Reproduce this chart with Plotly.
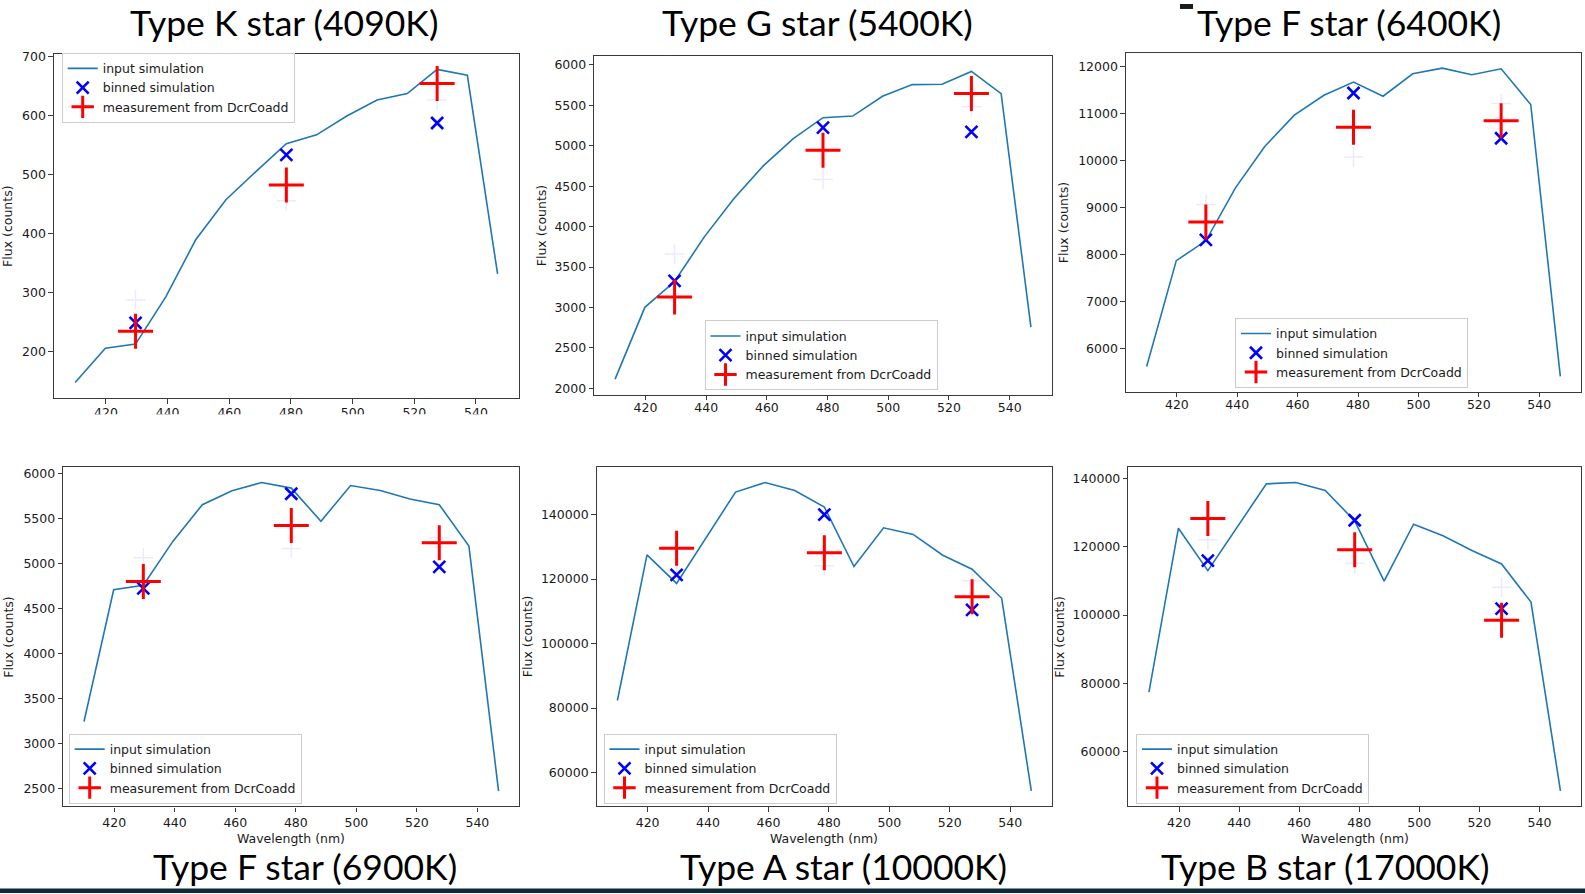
import plotly.graph_objects as go

# ---------------- data ----------------
wavelength = [410.0, 419.8, 429.6, 439.4, 449.1, 458.9, 468.7, 478.5,
              488.3, 498.1, 507.9, 517.7, 527.4, 537.2, 547.0]
bin_centers = [429.6, 478.5, 527.4]

titles = ["Type K star (4090K)", "Type G star (5400K)", "Type F star (6400K)",
          "Type F star (6900K)", "Type A star (10000K)", "Type B star (17000K)"]

k_input = [148, 206, 213, 293, 390, 458, 506, 553, 568, 600, 627, 638, 679, 669, 332]
k_binned = [249, 534, 588]
k_meas = [235, 483, 655]
k_ghost = [288, 456, 627]

g_input = [2115, 3002, 3321, 3873, 4344, 4753, 5088, 5346, 5366, 5611, 5755, 5759, 5918, 5644, 2757]
g_binned = [3329, 5223, 5170]
g_meas = [3129, 4945, 5644]
g_ghost = [3660, 4581, 5480]

f64_input = [5613, 7864, 8286, 9412, 10291, 10959, 11381, 11662, 11360, 11838, 11958, 11817, 11944, 11184, 5402]
f64_binned = [8307, 11430, 10467]
f64_meas = [8687, 10699, 10839]
f64_ghost = [9060, 10066, 11205]

f69_input = [3243, 4706, 4757, 5246, 5651, 5805, 5897, 5835, 5467, 5864, 5809, 5713, 5651, 5191, 2471]
f69_binned = [4721, 5772, 4960]
f69_meas = [4798, 5419, 5228]
f69_ghost = [5062, 5165, 5283]

a_input = [82359, 127487, 118667, 132821, 146974, 149949, 147487, 142359, 123897, 135897, 133846, 127385, 123077, 114051, 54359]
a_binned = [121333, 140000, 110462]
a_meas = [129538, 128205, 114564]
a_ghost = [122500, 124103, 119487]

b_input = [77439, 125451, 113036, 125840, 138448, 138836, 136508, 127585, 109932, 126615, 123220, 118856, 114976, 103822, 48536]
b_binned = [115946, 127779, 101882]
b_meas = [128264, 119146, 98487]
b_ghost = [122056, 115170, 108186]

x_ticks = [420, 440, 460, 480, 500, 520, 540]

panels_data = [
    (k_input, k_binned, k_meas, k_ghost, 100),
    (g_input, g_binned, g_meas, g_ghost, 500),
    (f64_input, f64_binned, f64_meas, f64_ghost, 1000),
    (f69_input, f69_binned, f69_meas, f69_ghost, 500),
    (a_input, a_binned, a_meas, a_ghost, 20000),
    (b_input, b_binned, b_meas, b_ghost, 20000),
]

# ---------------- layout (pixel geometry) ----------------
W, H = 1585, 894


def px(x):
    return x / W


def py(y):
    return 1 - y / H


# axes boxes: left, top, right, bottom (pixels)
boxes = [
    (54, 50, 518.7, 396.3),
    (594.3, 52.3, 1051.7, 392.7),
    (1126, 49, 1581, 390),
    (63.3, 465.7, 519.3, 807),
    (596.7, 465.7, 1052, 806.7),
    (1128.4, 465.7, 1581, 806.7),
]
# legend placement: (x_left, y, yanchor)
legend_pos = [
    (61.7, 49, "top"),
    (704.5, 388.5, "bottom"),
    (1235, 386, "bottom"),
    (68.7, 804, "bottom"),
    (603.5, 804, "bottom"),
    (1136, 804, "bottom"),
]
ylabel_x = [8, 541, 1063, 9, 527.5, 1060]
title_pos = [(284, 19), (817, 19), (1349, 19), (305, 867), (843, 867), (1325, 867)]
xtick_standoff = [-2, -3, -3, 0, 0, 0]

TICKFONT = dict(family="DejaVu Sans", size=12.5, color="#1a1a1a")
AXCOL = "#3a3a3a"

fig = go.Figure()
layout = dict(width=W, height=H, margin=dict(l=0, r=0, t=0, b=0),
              paper_bgcolor="white", plot_bgcolor="white",
              annotations=[], shapes=[])

for i, (inp, binned, meas, ghost, dtick) in enumerate(panels_data):
    n = i + 1
    xa = "x" if n == 1 else f"x{n}"
    ya = "y" if n == 1 else f"y{n}"
    lg = "legend" if n == 1 else f"legend{n}"

    fig.add_trace(go.Scatter(x=wavelength, y=inp, mode="lines", name="input simulation",
                             line=dict(color="#1f77b4", width=1.6),
                             xaxis=xa, yaxis=ya, legend=lg))
    fig.add_trace(go.Scatter(x=bin_centers, y=ghost, mode="markers", showlegend=False,
                             marker=dict(symbol="cross-thin", size=14,
                                         line=dict(width=1.5, color="rgba(150,150,255,0.2)")),
                             hoverinfo="skip", xaxis=xa, yaxis=ya))
    fig.add_trace(go.Scatter(x=bin_centers, y=binned, mode="markers", name="binned simulation",
                             marker=dict(symbol="x-thin", size=12, color="blue",
                                         line=dict(width=2.6, color="blue")),
                             xaxis=xa, yaxis=ya, legend=lg))
    fig.add_trace(go.Scatter(x=bin_centers, y=meas, mode="markers", name="measurement from DcrCoadd",
                             marker=dict(symbol="cross-thin", size=25, color="red",
                                         line=dict(width=3, color="red")),
                             xaxis=xa, yaxis=ya, legend=lg))

    allv = inp + binned + meas
    lo, hi = min(allv), max(allv)
    pad = 0.05 * (hi - lo)
    xlo, xhi = min(wavelength), max(wavelength)
    xpad = 0.05 * (xhi - xlo)

    l, t, r, b = boxes[i]
    axis_common = dict(showline=True, mirror=True, linecolor=AXCOL, linewidth=1.2,
                       ticks="outside", ticklen=4.5, tickwidth=1, tickcolor=AXCOL,
                       showgrid=False, zeroline=False, tickfont=TICKFONT)
    layout["xaxis" if n == 1 else f"xaxis{n}"] = dict(
        domain=[px(l), px(r)], anchor=ya, range=[xlo - xpad, xhi + xpad],
        tickmode="array", tickvals=x_ticks, ticklabelstandoff=xtick_standoff[i],
        **axis_common)
    layout["yaxis" if n == 1 else f"yaxis{n}"] = dict(
        domain=[py(b), py(t)], anchor=xa, range=[lo - pad, hi + pad],
        tick0=0, dtick=dtick, tickformat="d", **axis_common)

    lx, ly, yanch = legend_pos[i]
    layout[lg] = dict(x=px(lx), y=py(ly), xanchor="left", yanchor=yanch,
                      xref="paper", yref="paper",
                      bgcolor="rgba(255,255,255,0.8)", bordercolor="#cccccc", borderwidth=1,
                      font=dict(family="DejaVu Sans", size=12.5, color="#1a1a1a"),
                      tracegroupgap=0)

    # y label
    layout["annotations"].append(dict(
        text="Flux (counts)", x=px(ylabel_x[i]), y=py((t + b) / 2), xref="paper", yref="paper",
        textangle=-90, showarrow=False, xanchor="center", yanchor="middle",
        font=dict(family="DejaVu Sans", size=12.5, color="#1a1a1a")))
    # x label (bottom row)
    if i >= 3:
        layout["annotations"].append(dict(
            text="Wavelength (nm)", x=px((l + r) / 2), y=py(839), xref="paper", yref="paper",
            showarrow=False, xanchor="center", yanchor="middle",
            font=dict(family="DejaVu Sans", size=12.5, color="#1a1a1a")))
    # slide title
    tx, ty = title_pos[i]
    layout["annotations"].append(dict(
        text=titles[i], x=px(tx), y=py(ty), xref="paper", yref="paper",
        showarrow=False, xanchor="center", yanchor="middle",
        font=dict(family="Lato", size=35.5, color="black")))

# cropping artefacts of the pasted images
white = dict(type="rect", xref="paper", yref="paper", layer="above",
             fillcolor="white", line=dict(width=0))
layout["shapes"].append(dict(white, x0=px(0), x1=px(535), y0=py(445), y1=py(412.5)))
layout["shapes"].append(dict(white, x0=px(520.5), x1=px(523.5), y0=py(720), y1=py(550)))
layout["shapes"].append(dict(white, x0=px(1053), x1=px(1056), y0=py(720), y1=py(550)))
# small dark mark at top and slide footer bar
layout["shapes"].append(dict(type="rect", xref="paper", yref="paper", layer="above",
                             x0=px(1180), x1=px(1193), y0=py(5), y1=py(0),
                             fillcolor="#1a1a1a", line=dict(width=0)))
layout["shapes"].append(dict(type="rect", xref="paper", yref="paper", layer="above",
                             x0=0, x1=1, y0=0, y1=py(889.5),
                             fillcolor="#0c2a38", line=dict(width=0)))

fig.update_layout(**layout)
fig.write_html("out.html")
